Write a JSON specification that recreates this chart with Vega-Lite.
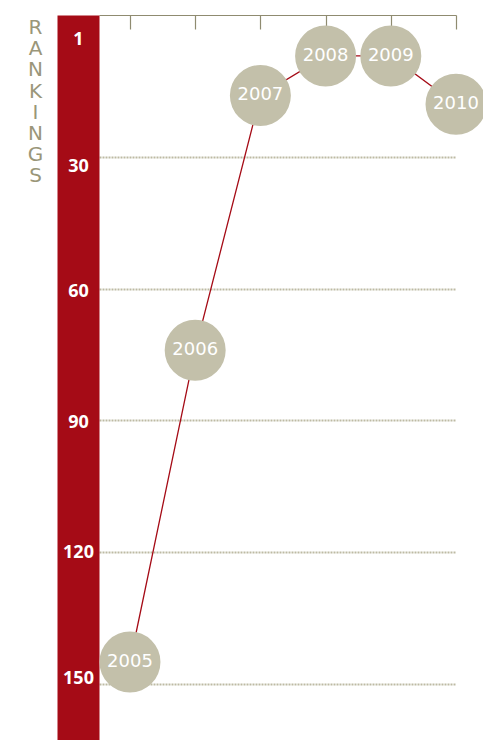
{
  "$schema": "https://vega.github.io/schema/vega-lite/v6.json",
  "width": 365,
  "height": 725,
  "autosize": "none",
  "padding": {"left": 99, "top": 15, "right": 19, "bottom": 0},
  "background": "white",
  "view": {"stroke": null},
  "data": {"values": [
    {"year": 2005, "rank": 145},
    {"year": 2006, "rank": 74},
    {"year": 2007, "rank": 16},
    {"year": 2008, "rank": 7},
    {"year": 2009, "rank": 7},
    {"year": 2010, "rank": 18}
  ]},
  "encoding": {
    "x": {
      "field": "year", "type": "quantitative",
      "scale": {"domain": [2004.525, 2010], "range": [0, 357], "nice": false, "zero": false},
      "axis": {
        "orient": "top", "values": [2005, 2006, 2007, 2008, 2009, 2010],
        "labels": false, "grid": false, "title": null,
        "domainColor": "#8f8b70", "domainWidth": 1.2,
        "tickColor": "#8f8b70", "tickWidth": 1.2, "tickSize": -14
      }
    }
  },
  "layer": [
    {
      "mark": {"type": "line", "color": "#a50b16", "strokeWidth": 1.3},
      "encoding": {
        "y": {
          "field": "rank", "type": "quantitative",
          "scale": {"domain": [-2.33, 162.76], "reverse": true, "nice": false, "zero": false},
          "axis": {
            "orient": "left", "offset": 21,
            "values": [30, 60, 90, 120, 150],
            "domainColor": "#a50b16", "domainWidth": 42,
            "ticks": false, "labels": false,
            "grid": true, "gridDash": [2, 1], "gridWidth": 2, "gridColor": "#bdbaa3",
            "title": null
          }
        }
      }
    },
    {
      "mark": {"type": "circle", "size": 3721, "color": "#c3c0aa", "opacity": 1},
      "encoding": {
        "y": {
          "field": "rank", "type": "quantitative",
          "axis": {
            "orient": "left", "offset": 21,
            "values": [1, 30, 60, 90, 120, 150],
            "domain": false, "ticks": false, "tickSize": 0, "grid": false,
            "labelPadding": 0, "labelAlign": "center", "labelBaseline": "middle",
            "labelFont": "Open Sans", "labelFontWeight": "bold", "labelFontSize": 18, "labelColor": "white",
            "labelOffset": {"condition": [
              {"test": "datum.value <= 30", "value": 10},
              {"test": "datum.value == 60", "value": 3},
              {"test": "datum.value == 90", "value": 2},
              {"test": "datum.value == 150", "value": -5}
            ], "value": 0},
            "title": ["R", "A", "N", "K", "I", "N", "G", "S"],
            "titleAngle": 0, "titleX": -43, "titleY": 18.3,
            "titleAlign": "center", "titleBaseline": "alphabetic",
            "titleFont": "DejaVu Sans", "titleFontWeight": "normal", "titleFontSize": 20,
            "titleColor": "#9a9679", "titleLineHeight": 21.24
          }
        }
      }
    },
    {
      "mark": {"type": "text", "font": "DejaVu Sans", "fontWeight": "normal", "fontSize": 18, "color": "white", "baseline": "middle", "align": "center"},
      "encoding": {
        "y": {"field": "rank", "type": "quantitative", "axis": null},
        "text": {"field": "year", "type": "quantitative", "format": "d"}
      }
    }
  ],
  "resolve": {"scale": {"y": "shared"}, "axis": {"y": "independent"}}
}
